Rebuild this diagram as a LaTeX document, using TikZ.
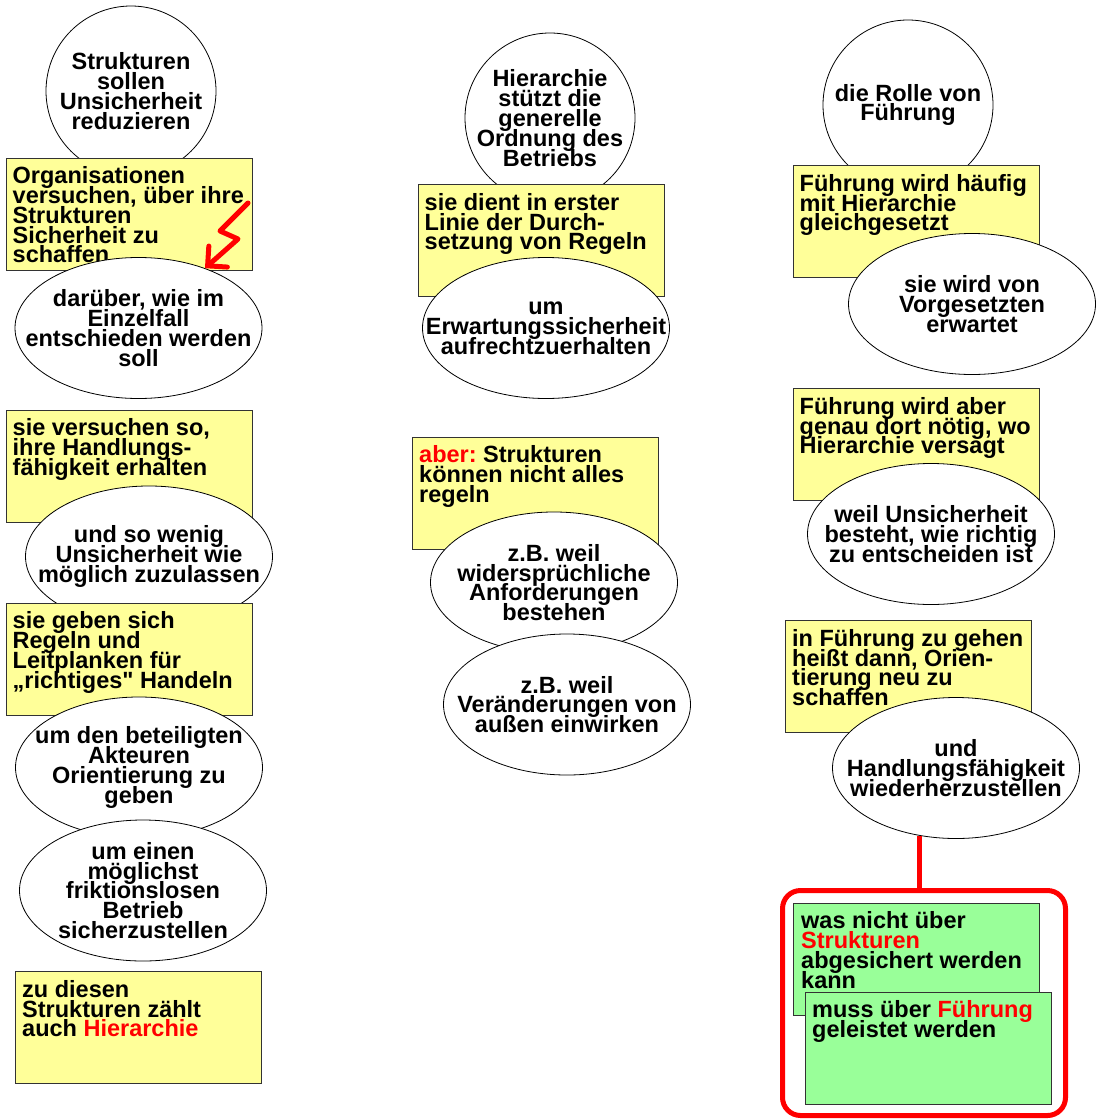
\documentclass[tikz,border=0pt]{standalone}
\usepackage{fontspec}
\setmainfont{Liberation Sans}[Ligatures=TeXOff]
\usetikzlibrary{shapes.geometric,arrows.meta}
\definecolor{boxyellow}{HTML}{FFFF99}
\definecolor{boxgreen}{HTML}{99FF99}
\definecolor{boxborder}{HTML}{333333}
\newcommand{\redtxt}[1]{\textcolor{red}{#1}}
\newcommand{\diafont}{\fontsize{23.5}{19.8}\selectfont\bfseries\frenchspacing\lineskiplimit=-100pt\relax\lineskip=0pt\relax}
\begin{document}
\begin{tikzpicture}[x=1pt,y=-1pt,
 txt/.style={font=\diafont, inner sep=0pt},
 ybox/.style={draw=boxborder, fill=boxyellow, line width=1pt, minimum width=246pt, minimum height=112pt, inner sep=0pt},
 gbox/.style={ybox, fill=boxgreen},
 oval/.style={ellipse, draw=black, fill=white, line width=0.8pt, minimum width=247pt, minimum height=141pt, inner sep=0pt},
 disc/.style={circle, draw=black, fill=white, line width=0.8pt, minimum size=170pt, inner sep=0pt},
 btxt/.style={txt, align=left, anchor=north west},
 ctxt/.style={txt, align=center},
 bolt/.style={red, line width=5pt, line join=round, line cap=round, -{Straight Barb[length=14pt,width=28pt,line cap=round]}},
 redline/.style={red, line width=5pt},
 redframe/.style={draw=red, line width=5pt, rounded corners=18pt, minimum width=283pt, minimum height=225pt, inner sep=0pt},
]
\fill[white] (0,0) rectangle (1096,1119);
\useasboundingbox (0,0) rectangle (1096,1119);

% ---------- column 1 ----------
\node[disc] (c1) at (131,91) {};
\node[ctxt] (c1t) at (c1.center) {Strukturen\\sollen\\Unsicherheit\\reduzieren};

\node[ybox] (b1) at (129,214) {};
\node[btxt] (b1t) at ([xshift=7pt,yshift=-9pt]b1.north west) {Organisationen\\versuchen, über ihre\\Strukturen\\Sicherheit zu\\schaffen};

\node[oval] (e1) at (138.5,328) {};
\node[ctxt] (e1t) at (e1.center) {darüber, wie im\\Einzelfall\\entschieden werden\\soll};

\coordinate (bolta) at (248,203);
\coordinate (boltb) at (220,231);
\coordinate (boltc) at (238,239);
\draw[bolt] (bolta) -- (boltb) -- (boltc) -- (e1.42);

\node[ybox] (b2) at (129,466) {};
\node[btxt] (b2t) at ([xshift=7pt,yshift=-9pt]b2.north west) {sie versuchen so,\\ihre Handlungs-\\fähigkeit erhalten};

\node[oval] (e2) at (149,556.5) {};
\node[ctxt] (e2t) at (e2.center) {und so wenig\\Unsicherheit wie\\möglich zuzulassen};

\node[ybox] (b3) at (129,659) {};
\node[btxt] (b3t) at ([xshift=7pt,yshift=-9pt]b3.north west) {sie geben sich\\Regeln und\\Leitplanken für\\„richtiges" Handeln};

\node[oval] (e3) at (139,767.5) {};
\node[ctxt] (e3t) at (e3.center) {um den beteiligten\\Akteuren\\Orientierung zu\\geben};

\node[oval] (e4) at (143,890.5) {};
\node[ctxt] (e4t) at (e4.center) {um einen\\möglichst\\friktionslosen\\Betrieb\\sicherzustellen};

\node[ybox] (b4) at (138.5,1027.5) {};
\node[btxt] (b4t) at ([xshift=7pt,yshift=-9pt]b4.north west) {zu diesen\\Strukturen zählt\\auch \redtxt{Hierarchie}};

% ---------- column 2 ----------
\node[disc] (c2) at (550,118) {};
\node[ctxt] (c2t) at (c2.center) {Hierarchie\\stützt die\\generelle\\Ordnung des\\Betriebs};

\node[ybox] (b5) at (541,240.5) {};
\node[btxt] (b5t) at ([xshift=7pt,yshift=-9pt]b5.north west) {sie dient in erster\\Linie der Durch-\\setzung von Regeln};

\node[oval] (e5) at (546,328) {};
\node[ctxt] (e5t) at (e5.center) {um\\Erwartungssicherheit\\aufrechtzuerhalten};

\node[ybox] (b6) at (535.5,493) {};
\node[btxt] (b6t) at ([xshift=7pt,yshift=-9pt]b6.north west) {\redtxt{aber:} Strukturen\\können nicht alles\\regeln};

\node[oval] (e6) at (554,582.5) {};
\node[ctxt] (e6t) at (e6.center) {z.B. weil\\widersprüchliche\\Anforderungen\\bestehen};

\node[oval] (e7) at (567,704.5) {};
\node[ctxt] (e7t) at (e7.center) {z.B. weil\\Veränderungen von\\außen einwirken};

% ---------- column 3 ----------
\node[disc] (c3) at (908,105) {};
\node[ctxt] (c3t) at (c3.center) {die Rolle von\\Führung};

\node[ybox] (b7) at (916,221.5) {};
\node[btxt] (b7t) at ([xshift=7pt,yshift=-9pt]b7.north west) {Führung wird häufig\\mit Hierarchie\\gleichgesetzt};

\node[oval] (e8) at (972,304) {};
\node[ctxt] (e8t) at (e8.center) {sie wird von\\Vorgesetzten\\erwartet};

\node[ybox] (b8) at (916,444.5) {};
\node[btxt] (b8t) at ([xshift=7pt,yshift=-9pt]b8.north west) {Führung wird aber\\genau dort nötig, wo\\Hierarchie versagt};

\node[oval] (e9) at (931,534) {};
\node[ctxt] (e9t) at (e9.center) {weil Unsicherheit\\besteht, wie richtig\\zu entscheiden ist};

\node[ybox] (b9) at (908.5,676.5) {};
\node[btxt] (b9t) at ([xshift=7pt,yshift=-9pt]b9.north west) {in Führung zu gehen\\heißt dann, Orien-\\tierung neu zu\\schaffen};

\node[oval] (e10) at (956,768) {};
\node[ctxt] (e10t) at (e10.center) {und\\Handlungsfähigkeit\\wiederherzustellen};

\node[redframe] (rbox) at (924,1003) {};
\draw[redline] (e10.242) -- (e10.242 |- rbox.north);

\node[gbox] (g1) at (916.5,959) {};
\node[btxt] (g1t) at ([xshift=8pt,yshift=-9pt]g1.north west) {was nicht über\\\redtxt{Strukturen}\\abgesichert werden\\kann};

\node[gbox] (g2) at (928.5,1048) {};
\node[btxt] (g2t) at ([xshift=7pt,yshift=-9pt]g2.north west) {muss über \redtxt{Führung}\\geleistet werden};
\end{tikzpicture}
\end{document}
